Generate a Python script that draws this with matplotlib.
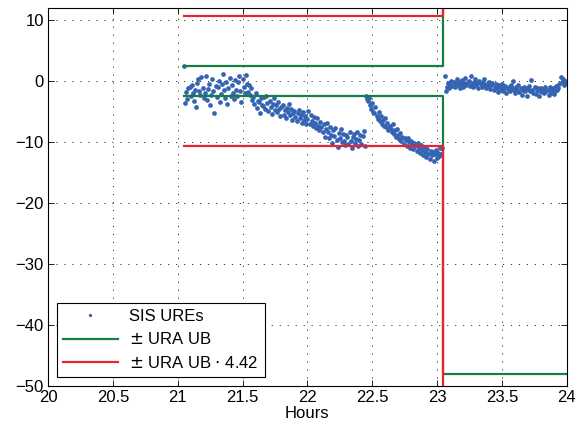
import matplotlib
matplotlib.use("Agg")
import matplotlib.pyplot as plt
import numpy as np

plt.rcParams['font.family'] = ['Liberation Sans', 'DejaVu Sans']

# SIS URE samples (30 s spacing), first pass 21.05 h .. 23.04 h
ure_before = [
    2.5, -3.6, -1.8, -2.9, -1.2, -0.9, -2.4, -0.6, -2.0, -3.3,
    -1.4, -4.2, -0.3, 0.4, -1.6, -2.2, 0.6, -1.1, -2.7, -1.9,
    0.8, -3.1, -1.3, -0.5, -4.0, -2.3, 0.3, -1.7, -5.3, -0.8,
    -2.6, -1.0, 0.1, -3.5, -2.1, -0.4, 1.2, -1.5, -2.8, -0.2,
    -3.8, -1.2, 0.5, -2.4, -0.7, -1.9, -3.0, 0.2, -1.4, -2.5,
    -0.1, 0.9, -1.6, -3.4, 0.4, -0.9, -2.0, 1.0, -0.5, -1.8,
    -0.6, -2.3, -1.2, -3.1, -2.6, -3.8, -2.0, -4.4, -3.2, -3.5,
    -5.2, -2.7, -3.9, -4.1, -2.6, -4.6, -2.4, -3.6, -4.9, -3.3,
    -4.3, -5.4, -3.8, -2.8, -4.7, -4.0, -5.1, -3.5, -4.5, -5.8,
    -4.2, -3.9, -5.5, -4.8, -6.1, -4.4, -5.0, -3.7, -5.6, -4.6,
    -6.3, -5.2, -4.9, -5.9, -6.6, -5.3, -4.7, -6.0, -5.5, -6.8,
    -5.1, -6.4, -5.8, -7.0,
    -6.2, -4.9, -7.1, -5.6, -6.5, -7.4, -5.9, -6.8, -7.7, -6.1,
    -7.3, -8.0, -6.7, -7.5, -8.4, -7.0, -9.1, -7.8, -6.9, -8.3,
    -9.4, -7.6, -8.8, -10.2, -8.1, -9.0, -7.7, -9.6, -10.8, -8.5,
    -9.3, -7.9, -10.0, -8.7, -9.8, -10.5, -8.9, -9.2, -10.3, -8.4,
    -9.9, -10.9, -9.1, -8.6, -10.1, -9.5, -8.3, -10.6, -9.7, -8.8,
    -10.4, -9.0, -8.2, -10.7,
    -2.4, -2.9, -3.3, -2.7, -3.9, -4.5, -3.6, -5.1, -5.3, -4.2,
    -5.8, -6.2, -5.0, -6.6, -5.7, -7.0, -6.3, -7.4, -6.0, -7.6,
    -6.9, -8.0, -7.3, -7.8, -8.4, -7.1, -8.7, -8.1, -9.2, -7.9,
    -8.8, -9.5, -8.5, -9.9, -9.1, -10.3, -9.4, -9.7, -10.6, -9.3,
    -10.0, -10.9, -9.8, -10.4, -11.2, -10.1, -10.7, -11.5, -10.2, -11.0,
    -11.8, -10.5, -11.3, -12.1, -10.8, -11.6, -12.5, -11.1, -11.9, -12.8,
    -11.4, -12.2, -11.7, -13.1, -12.0, -11.3, -12.6, -11.8, -12.3, -11.0,
    -12.0, -10.9,
]

# after the URA switch, 23.06 h .. 24 h
ure_after = [
    0.8, -1.6, -0.9, -0.3, -1.2, -0.6, 0.1, -0.8, -0.2, -1.0,
    -0.4, 0.3, -0.7, -0.1, -1.1, -0.5, 0.2, -0.9, -0.3, 0.5,
    -0.6, -0.2, 0.0, -0.8, 0.9, -0.4, -1.0, -0.1, 0.4, -0.7,
    -0.3, -1.2, 0.1, -0.5, -0.9, -0.2, 0.3, -0.6, -1.1, -0.4,
    -0.8, -0.1, -1.3, -0.7, -0.3, -1.5, -0.9, -0.5, -1.2, -1.8,
    -0.6, -1.0, -1.4, -0.4, -1.7, -1.1, -0.8, -2.0, -1.3, -0.9,
    -1.6, -0.7, -1.2, 0.1, -1.5, -1.9, -1.0, -1.4, -0.6, -1.8,
    -1.2, -2.2, -1.5, -0.9, -1.7, -1.1, -2.4, -1.3, -0.8, -1.6,
    0.2, -1.4, -1.9, -1.0, -2.1, -1.5, -1.2, -2.5, -1.7, -1.1,
    -1.8, -1.3, -2.0, -0.9, -1.6, -1.4, -2.3, -1.0, -1.9, -1.5,
    -1.2, -2.1, -1.6, -0.8, -1.4, -1.1, -0.4, 0.6, -0.2, 0.4,
    -0.6, 0.1, -0.3,
]

start_before = 21.05
start_after = 23.06
sample_step = 1.0 / 120  # 30 s in hours

# URA upper bound (steps)
ura_times = [21.05, 23.045, 24.0]
ura_ub = [2.4, 48.0, 48.0]
ura_factor = 4.42

t_before = start_before + np.arange(len(ure_before)) * sample_step
t_after = start_after + np.arange(len(ure_after)) * sample_step
t_all = np.concatenate([t_before, t_after])
ure_all = np.array(ure_before + ure_after)
ura = np.array(ura_ub)

blue = "#3563b3"
green = "#13803f"
red = "#ea2330"

fig = plt.figure(figsize=(5.76, 4.34), dpi=100)
ax = fig.add_axes([0.0833, 0.111, 0.9007, 0.8706])

ax.plot(t_all, ure_all, 'o', color=blue, markersize=3.4, markeredgewidth=0, label="SIS UREs")
ax.plot(ura_times, ura, color=green, lw=1.6, drawstyle='steps-post', label="$\\pm$ URA UB")
ax.plot(ura_times, -ura, color=green, lw=1.6, drawstyle='steps-post')
ax.plot(ura_times, ura * ura_factor, color=red, lw=1.6, drawstyle='steps-post',
        label="$\\pm$ URA UB $\\cdot$ 4.42")
ax.plot(ura_times, -ura * ura_factor, color=red, lw=1.6, drawstyle='steps-post')

ax.set_xlim(20, 24)
ax.set_ylim(-50, 12)
ax.set_xticks(np.arange(20, 24.01, 0.5))
ax.set_xticklabels(["20", "20.5", "21", "21.5", "22", "22.5", "23", "23.5", "24"])
ax.set_yticks([-50, -40, -30, -20, -10, 0, 10])
ax.set_yticklabels(["\u221250", "\u221240", "\u221230", "\u221220", "\u221210", "0", "10"])
ax.tick_params(direction='in', length=4, width=0.6, top=True, right=True, labelsize=12, pad=3)
ax.grid(True, color="#333333", linestyle=(0, (1.2, 7)), lw=0.7)
for s in ax.spines.values():
    s.set_linewidth(0.8)
ax.set_xlabel("Hours", fontsize=12, labelpad=1)

leg = ax.legend(loc='lower left', bbox_to_anchor=(0.0168, 0.024), borderaxespad=0,
                fontsize=12, handlelength=3.3, numpoints=1, markerscale=0.7,
                fancybox=False, edgecolor='black', framealpha=1, labelspacing=0.45,
                borderpad=0.35, handletextpad=0.7)
leg.get_frame().set_linewidth(0.8)

fig.savefig("out.png", dpi=100)
